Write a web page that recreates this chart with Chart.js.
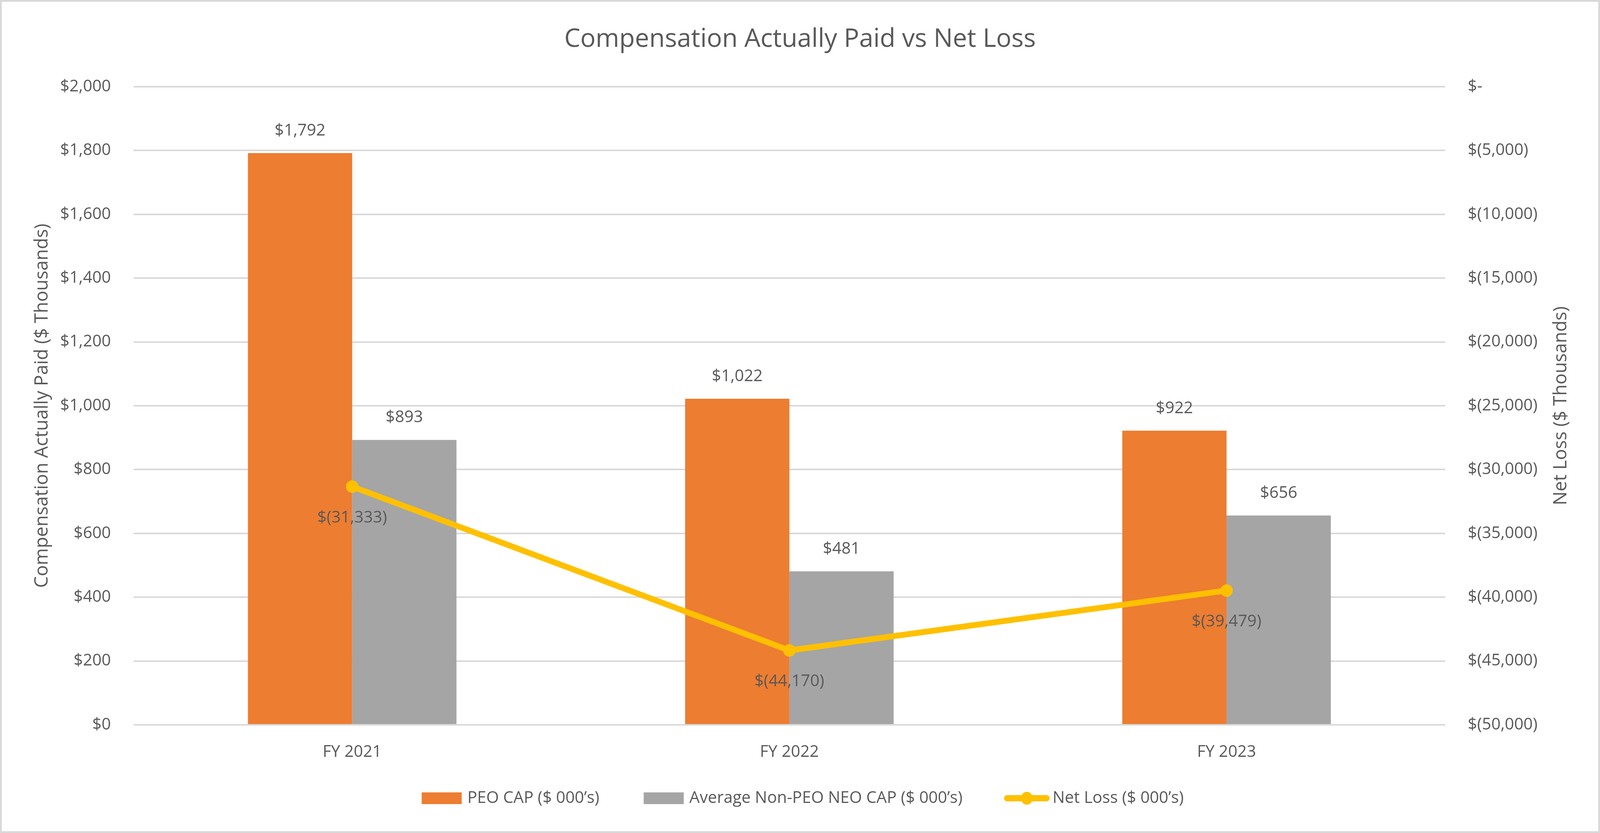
<!DOCTYPE html>
<html>
<head>
<meta charset="utf-8">
<script src="https://cdn.jsdelivr.net/npm/chart.js@4.4.1/dist/chart.umd.min.js"></script>
<style>
  html, body { margin: 0; padding: 0; background: #fff; overflow: hidden; }
  #wrap { width: 100vw; height: 100vh; position: relative; }
</style>
</head>
<body>
<div id="wrap"><canvas id="chart"></canvas></div>
<script>
const categories = ['FY 2021', 'FY 2022', 'FY 2023'];
const peoCap = [1792, 1022, 922];
const neoCap = [893, 481, 656];
const netLoss = [-31333, -44170, -39479];
const seriesNames = ['PEO CAP ($ 000\u2019s)', 'Average Non-PEO NEO CAP ($ 000\u2019s)', 'Net Loss ($ 000\u2019s)'];

// sizes are measured on the 4515 x 2133 reference and mapped onto the window
const KX = window.innerWidth / 4515;
const KY = window.innerHeight / 2133;
const sx = v => v * KX;
const sy = v => v * KY;
const sf = v => v * KX;

const FONT = '"Open Sans", "Noto Sans", sans-serif';
const TEXT = '#595959';

function money(v) {
    return '$' + Math.abs(v).toLocaleString('en-US');
}

function moneyNeg(v) {
    if (v === 0) return '$-';
    return v < 0 ? '$(' + Math.abs(v).toLocaleString('en-US') + ')' : money(v);
}

// legend symbols, drawn in a canvas a bit wider than the legend box
function symbolCanvas(draw) {
    const c = document.createElement('canvas');
    c.width = Math.round(sx(150));
    c.height = Math.round(sy(40));
    draw(c.getContext('2d'));
    return c;
}

function boxSymbol(color) {
    return symbolCanvas(g => {
        g.fillStyle = color;
        g.fillRect(sx(29), sy(5), sx(113), sy(30));
    });
}

function lineSymbol(color) {
    return symbolCanvas(g => {
        g.strokeStyle = color;
        g.lineWidth = sy(16);
        g.lineCap = 'round';
        g.beginPath();
        g.moveTo(sx(30), sy(20)); g.lineTo(sx(141), sy(20));
        g.stroke();
        g.fillStyle = color;
        g.beginPath();
        g.ellipse(sx(85.5), sy(20), sx(16.5), sy(16.5), 0, 0, Math.PI * 2);
        g.fill();
    });
}

const symbols = [boxSymbol('#ED7D31'), boxSymbol('#A5A5A5'), lineSymbol('#FFC000')];

const legendFont = sf(46);
const legendPad = sx(111);
const legendHeight = legendFont + legendPad + 10;
const titleFont = sf(72);
const titleTop = sy(101) - 0.6 * titleFont;
const titleBottom = sy(222) - titleTop - 1.2 * titleFont;

const frame = {
    id: 'frame',
    beforeDraw(chart) {
        const ctx = chart.ctx;
        ctx.save();
        ctx.fillStyle = '#fff';
        ctx.fillRect(0, 0, chart.width, chart.height);
        ctx.strokeStyle = '#D9D9D9';
        ctx.lineWidth = sx(5);
        ctx.strokeRect(sx(2.5), sx(2.5), chart.width - sx(5), chart.height - sx(5));
        ctx.restore();
    }
};

// put the legend row where it sits in the reference
const legendPlace = {
    id: 'legendPlace',
    afterLayout(chart) {
        const lg = chart.legend;
        if (!lg || !lg.lineWidths) return;
        const dy = sy(2044) - legendPad - legendFont / 2 - lg.top;
        lg.top += dy;
        lg.bottom += dy;
        const start = (lg.left + legendPad + lg.right - lg.lineWidths[0]) / 2;
        const center = start + (lg.lineWidths[0] - legendPad + sx(14)) / 2;
        const dx = sx(2265) - center;
        lg.left += dx;
        lg.right += dx;
    }
};

const valueLabels = {
    id: 'valueLabels',
    afterDatasetsDraw(chart) {
        const ctx = chart.ctx;
        ctx.save();
        ctx.font = sf(46) + 'px ' + FONT;
        ctx.fillStyle = TEXT;
        ctx.textAlign = 'center';
        ctx.textBaseline = 'middle';
        chart.data.datasets.forEach((ds, i) => {
            const meta = chart.getDatasetMeta(i);
            meta.data.forEach((el, j) => {
                const v = ds.data[j];
                if (ds.type === 'line') {
                    ctx.fillText(moneyNeg(v), el.x, el.y + sy(80));
                } else {
                    ctx.fillText(money(v), el.x, el.y - sy(57));
                }
            });
        });
        ctx.restore();
    }
};

// right axis title reads bottom to top like the left one
const rightTitle = {
    id: 'rightTitle',
    afterDraw(chart) {
        const area = chart.chartArea;
        const ctx = chart.ctx;
        ctx.save();
        ctx.translate(sx(4405), (area.top + area.bottom) / 2);
        ctx.rotate(-Math.PI / 2);
        ctx.font = sf(52) + 'px ' + FONT;
        ctx.fillStyle = TEXT;
        ctx.textAlign = 'center';
        ctx.textBaseline = 'middle';
        ctx.fillText('Net Loss ($ Thousands)', 0, 0);
        ctx.restore();
    }
};

const tickFont = { family: FONT, size: sf(46) };

const config = {
    type: 'bar',
    data: {
        labels: categories,
        datasets: [
            {
                type: 'bar',
                label: seriesNames[0],
                data: peoCap,
                backgroundColor: '#ED7D31',
                yAxisID: 'y',
                order: 1,
                categoryPercentage: 0.477,
                barPercentage: 1.0,
            },
            {
                type: 'bar',
                label: seriesNames[1],
                data: neoCap,
                backgroundColor: '#A5A5A5',
                yAxisID: 'y',
                order: 1,
                categoryPercentage: 0.477,
                barPercentage: 1.0,
            },
            {
                type: 'line',
                label: seriesNames[2],
                data: netLoss,
                borderColor: '#FFC000',
                backgroundColor: '#FFC000',
                borderWidth: sy(15),
                pointRadius: sy(16),
                pointBorderWidth: 0,
                pointBackgroundColor: '#FFC000',
                tension: 0,
                yAxisID: 'y2',
                order: 0,
            },
        ],
    },
    options: {
        responsive: true,
        maintainAspectRatio: false,
        animation: false,
        layout: { padding: 0 },
        plugins: {
            title: {
                display: true,
                text: 'Compensation Actually Paid vs Net Loss',
                color: TEXT,
                font: { family: FONT, size: titleFont, weight: 'normal', lineHeight: 1.2 },
                padding: { top: titleTop, bottom: titleBottom },
            },
            legend: {
                position: 'bottom',
                labels: {
                    usePointStyle: true,
                    pointStyleWidth: sx(120),
                    padding: legendPad,
                    color: TEXT,
                    font: tickFont,
                    generateLabels(chart) {
                        const items = Chart.defaults.plugins.legend.labels.generateLabels(chart);
                        items.forEach(it => { it.pointStyle = symbols[it.datasetIndex]; });
                        return items;
                    },
                    sort: (a, b) => a.datasetIndex - b.datasetIndex,
                },
            },
            tooltip: { enabled: false },
        },
        scales: {
            x: {
                grid: { display: false, drawTicks: false },
                border: { display: false },
                ticks: { color: TEXT, font: tickFont, padding: sy(70) - 0.6 * sf(46) },
                afterFit(scale) { scale.height = sy(2133 - 1856) - legendHeight; },
            },
            y: {
                position: 'left',
                min: 0,
                max: 2000,
                ticks: {
                    stepSize: 200,
                    color: TEXT,
                    font: tickFont,
                    padding: sx(64),
                    callback: v => money(v),
                },
                grid: { color: '#D9D9D9', lineWidth: sy(4), drawTicks: false },
                border: { display: false },
                title: {
                    display: true,
                    text: 'Compensation Actually Paid ($ Thousands)',
                    color: TEXT,
                    font: { family: FONT, size: sf(52) },
                    padding: { top: sx(88) },
                },
                afterFit(scale) { scale.width = sx(377); },
            },
            y2: {
                position: 'right',
                min: -50000,
                max: 0,
                ticks: {
                    stepSize: 5000,
                    color: TEXT,
                    font: tickFont,
                    padding: sx(64),
                    callback: v => moneyNeg(v),
                },
                grid: { display: false, drawTicks: false },
                border: { display: false },
                afterFit(scale) { scale.width = sx(437); },
            },
        },
    },
    plugins: [frame, legendPlace, valueLabels, rightTitle],
};

window.myChart = new Chart(document.getElementById('chart'), config);
</script>
</body>
</html>
